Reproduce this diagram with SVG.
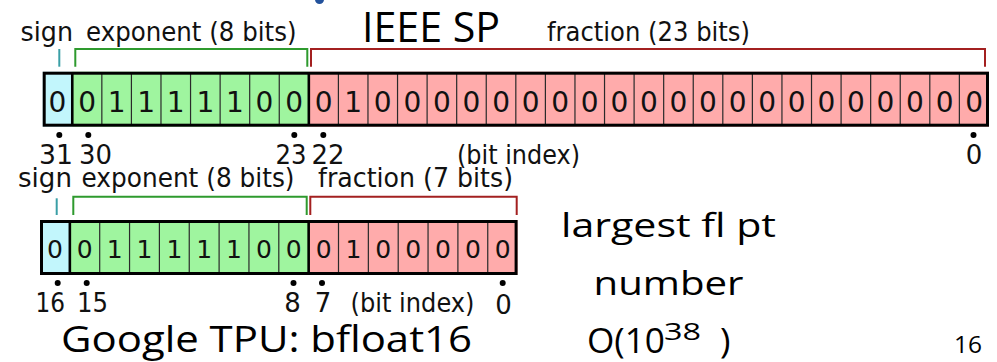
<svg xmlns="http://www.w3.org/2000/svg" width="997" height="362" viewBox="0 0 997 362">
<style>
.lbl{font-family:"DejaVu Sans","Liberation Sans",sans-serif;font-size:26px;fill:#111}
.dig{font-family:"DejaVu Sans","Liberation Sans",sans-serif;fill:#111;text-anchor:middle}
.mid{text-anchor:middle}
.slide{font-family:"Open Sans","Noto Sans","Liberation Sans",sans-serif;font-weight:400;fill:#000}
.sgn{fill:#c2f6fc}
.exp{fill:#9ff59f}
.frc{fill:#ffabab}
.thin{stroke:#2a2a2a;stroke-width:1.2;fill:none}
.div{stroke:#000;stroke-width:2.6;fill:none}
.frame{fill:none;stroke:#000;stroke-width:3}
.bs{stroke:#3a9fa6;stroke-width:2;fill:none}
.be{stroke:#2e9a2e;stroke-width:2;fill:none}
.bf{stroke:#a32020;stroke-width:2;fill:none}
.dot{fill:#000}
</style>
<rect width="997" height="362" fill="#fff"/>
<circle cx="319.5" cy="-0.5" r="4.5" fill="#23529c"/>

<g id="ieee-sp">
  <text class="slide" x="362" y="41.7" font-size="42" textLength="138" lengthAdjust="spacingAndGlyphs">IEEE SP</text>
  <text class="lbl" x="20.5" y="40.5" textLength="52.5" lengthAdjust="spacingAndGlyphs">sign</text>
  <text class="lbl" x="86" y="40.5" textLength="210.5" lengthAdjust="spacingAndGlyphs">exponent (8 bits)</text>
  <text class="lbl" x="547" y="40.5" textLength="203" lengthAdjust="spacingAndGlyphs">fraction (23 bits)</text>
  <rect class="sgn" x="42.7" y="71.7" width="29.57" height="55"/>
  <rect class="exp" x="72.27" y="71.7" width="236.56" height="55"/>
  <rect class="frc" x="308.83" y="71.7" width="680.11" height="55"/>
  <path class="thin" d="M101.84 73V125M131.41 73V125M160.98 73V125M190.55 73V125M220.12 73V125M249.69 73V125M279.26 73V125M338.4 73V125M367.97 73V125M397.54 73V125M427.11 73V125M456.68 73V125M486.25 73V125M515.82 73V125M545.39 73V125M574.96 73V125M604.53 73V125M634.1 73V125M663.67 73V125M693.24 73V125M722.81 73V125M752.38 73V125M781.95 73V125M811.52 73V125M841.09 73V125M870.66 73V125M900.23 73V125M929.8 73V125M959.37 73V125"/>
  <path class="div" d="M72.27 73V125M308.83 73V125"/>
  <rect class="frame" x="44.2" y="73.2" width="943.3" height="52"/>
  <g class="dig" font-size="28">
    <text x="57.49" y="112">0</text><text x="87.06" y="112">0</text><text x="116.63" y="112">1</text><text x="146.2" y="112">1</text><text x="175.77" y="112">1</text><text x="205.34" y="112">1</text><text x="234.91" y="112">1</text><text x="264.48" y="112">0</text><text x="294.05" y="112">0</text>
    <text x="323.62" y="112">0</text><text x="353.19" y="112">1</text><text x="382.76" y="112">0</text><text x="412.33" y="112">0</text><text x="441.9" y="112">0</text><text x="471.47" y="112">0</text><text x="501.04" y="112">0</text><text x="530.61" y="112">0</text><text x="560.18" y="112">0</text><text x="589.75" y="112">0</text><text x="619.32" y="112">0</text><text x="648.89" y="112">0</text><text x="678.46" y="112">0</text><text x="708.03" y="112">0</text><text x="737.6" y="112">0</text><text x="767.17" y="112">0</text><text x="796.74" y="112">0</text><text x="826.31" y="112">0</text><text x="855.88" y="112">0</text><text x="885.45" y="112">0</text><text x="915.02" y="112">0</text><text x="944.59" y="112">0</text><text x="974.16" y="112">0</text>
  </g>
  <circle class="dot" cx="59.3" cy="135" r="3"/>
  <circle class="dot" cx="88.3" cy="135" r="3"/>
  <circle class="dot" cx="294.3" cy="135" r="3"/>
  <circle class="dot" cx="323.3" cy="135" r="3"/>
  <circle class="dot" cx="973.5" cy="135" r="3"/>
  <text class="lbl" x="39" y="164" textLength="34" lengthAdjust="spacingAndGlyphs">31</text>
  <text class="lbl" x="79" y="164" textLength="33" lengthAdjust="spacingAndGlyphs">30</text>
  <text class="lbl" x="275.5" y="164" textLength="31" lengthAdjust="spacingAndGlyphs">23</text>
  <text class="lbl" x="311.5" y="164" textLength="33" lengthAdjust="spacingAndGlyphs">22</text>
  <text class="lbl" x="457" y="164" textLength="123" lengthAdjust="spacingAndGlyphs">(bit index)</text>
  <text class="lbl mid" x="974" y="164">0</text>
</g>

<g id="bfloat16">
  <text class="lbl" x="18" y="186.5" textLength="54" lengthAdjust="spacingAndGlyphs">sign</text>
  <text class="lbl" x="81.5" y="186.5" textLength="213" lengthAdjust="spacingAndGlyphs">exponent (8 bits)</text>
  <text class="lbl" x="318" y="186.5" textLength="195" lengthAdjust="spacingAndGlyphs">fraction (7 bits)</text>
  <rect class="sgn" x="40" y="220" width="29.85" height="55"/>
  <rect class="exp" x="69.85" y="220" width="238.8" height="55"/>
  <rect class="frc" x="308.65" y="220" width="208.95" height="55"/>
  <path class="thin" d="M99.7 221.5V273.5M129.55 221.5V273.5M159.4 221.5V273.5M189.25 221.5V273.5M219.1 221.5V273.5M248.95 221.5V273.5M278.8 221.5V273.5M338.5 221.5V273.5M368.35 221.5V273.5M398.2 221.5V273.5M428.05 221.5V273.5M457.9 221.5V273.5M487.75 221.5V273.5"/>
  <path class="div" d="M69.85 221.5V273.5M308.65 221.5V273.5"/>
  <rect class="frame" x="41.5" y="221.5" width="474.6" height="52"/>
  <g class="dig" font-size="25">
    <text x="54.93" y="258">0</text><text x="84.78" y="258">0</text><text x="114.63" y="258">1</text><text x="144.48" y="258">1</text><text x="174.33" y="258">1</text><text x="204.18" y="258">1</text><text x="234.03" y="258">1</text><text x="263.88" y="258">0</text><text x="293.73" y="258">0</text>
    <text x="323.58" y="258">0</text><text x="353.43" y="258">1</text><text x="383.28" y="258">0</text><text x="413.13" y="258">0</text><text x="442.98" y="258">0</text><text x="472.83" y="258">0</text><text x="502.68" y="258">0</text>
  </g>
  <circle class="dot" cx="57.7" cy="283" r="3"/>
  <circle class="dot" cx="86.7" cy="283" r="3"/>
  <circle class="dot" cx="293.5" cy="283" r="3"/>
  <circle class="dot" cx="322" cy="283" r="3"/>
  <circle class="dot" cx="502.7" cy="283" r="3"/>
  <text class="lbl" x="35.5" y="311.7" textLength="29.5" lengthAdjust="spacingAndGlyphs">16</text>
  <text class="lbl" x="77" y="311.7" textLength="31" lengthAdjust="spacingAndGlyphs">15</text>
  <text class="lbl mid" x="292.5" y="311.7">8</text>
  <text class="lbl mid" x="323" y="311.7">7</text>
  <text class="lbl" x="350.5" y="311.7" textLength="124" lengthAdjust="spacingAndGlyphs">(bit index)</text>
  <text class="lbl mid" x="503.4" y="314">0</text>
  <text class="slide" x="61" y="351.7" font-size="37" textLength="411" lengthAdjust="spacingAndGlyphs">Google TPU: bfloat16</text>
</g>

<g id="brackets">
  <path class="bs" d="M59.3 49V66.7"/>
  <path class="be" d="M75.3 66.7V49H307.3V66.7"/>
  <path class="bf" d="M311 66.7V49H985V66.7"/>
  <path class="bs" d="M56.7 198.3V215"/>
  <path class="be" d="M73.3 215V196.7H306.7V215"/>
  <path class="bf" d="M310.3 215V196.7H516.7V215"/>
</g>

<g id="largest-note">
  <text class="slide" x="561" y="237.3" font-size="32.5" textLength="215" lengthAdjust="spacingAndGlyphs">largest fl pt</text>
  <text class="slide" x="593.5" y="295" font-size="33" textLength="150" lengthAdjust="spacingAndGlyphs">number</text>
  <text class="slide" y="353.3" font-size="35.5"><tspan x="587" textLength="78" lengthAdjust="spacingAndGlyphs">O(10</tspan><tspan x="664" y="340" font-size="23" textLength="37" lengthAdjust="spacingAndGlyphs">38</tspan><tspan x="720" y="353.3">)</tspan></text>
</g>

<g id="page-number">
  <text class="slide" x="954" y="353.3" font-size="23" textLength="28" lengthAdjust="spacingAndGlyphs">16</text>
</g>
</svg>
